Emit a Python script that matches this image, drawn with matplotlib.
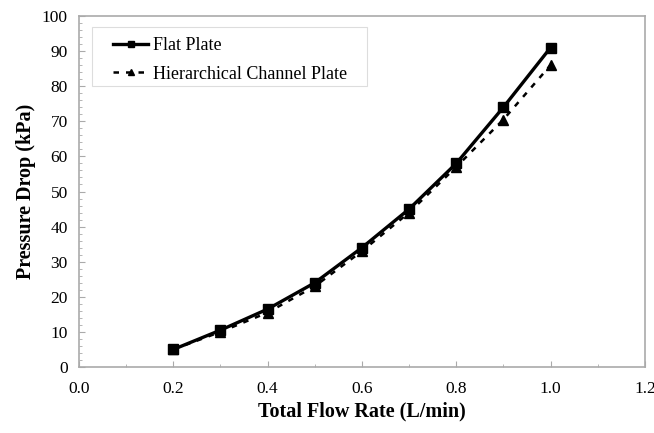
import matplotlib
matplotlib.use("Agg")
import matplotlib.pyplot as plt
from matplotlib.ticker import MultipleLocator
from matplotlib.patches import Rectangle

plt.rcParams['font.family'] = ['Liberation Serif', 'DejaVu Serif']

flow = [0.2, 0.3, 0.4, 0.5, 0.6, 0.7, 0.8, 0.9, 1.0]
flat_plate = [5.0, 10.5, 16.5, 24.0, 34.0, 45.0, 58.0, 74.0, 91.0]
hier_plate = [5.0, 10.0, 15.5, 23.0, 33.0, 44.0, 57.0, 70.5, 86.0]

fig = plt.figure(figsize=(6.54, 4.33), dpi=100)
ax = fig.add_axes([0.1208, 0.1524, 0.8652, 0.8106])

ax.plot(flow, flat_plate, '-', color='black', lw=2.4, marker='s', ms=7, label='Flat Plate', zorder=3)
ax.plot(flow, hier_plate, '--', color='black', lw=1.8, dashes=(2.2, 2.8), marker='^', ms=7, label='Hierarchical Channel Plate', zorder=4)

ax.set_xlim(0, 1.2)
ax.set_ylim(0, 100)
ax.xaxis.set_major_locator(MultipleLocator(0.2))
ax.xaxis.set_minor_locator(MultipleLocator(0.1))
ax.yaxis.set_major_locator(MultipleLocator(10))
ax.yaxis.set_minor_locator(MultipleLocator(2))
ax.set_xticklabels([f"{v:.1f}" for v in ax.get_xticks()])
ax.tick_params(axis='both', which='both', direction='in', colors='#aaaaaa', labelcolor='black', labelsize=12.5, pad=8)
ax.tick_params(axis='x', which='both', pad=10)
ax.tick_params(which='major', length=4)
ax.tick_params(which='minor', length=2.5)
for s in ax.spines.values():
    s.set_color('#aaaaaa')
    s.set_linewidth(1.2)

ax.set_xlabel('Total Flow Rate (L/min)', fontsize=14.5, fontweight='bold', labelpad=3)
ax.set_ylabel('Pressure Drop (kPa)', fontsize=14.5, fontweight='bold', labelpad=4)

# legend frame
ax.add_patch(Rectangle((0.023, 0.8006), 0.486, 0.1684, transform=ax.transAxes,
                       facecolor='white', edgecolor='#dddddd', lw=0.8, zorder=5))
leg = ax.legend(loc='upper left', bbox_to_anchor=(0.060, 0.940), fontsize=13, frameon=False,
                handlelength=1.95, handletextpad=0.25, borderpad=0, labelspacing=0.65,
                borderaxespad=0, markerscale=0.6)
leg.set_zorder(6)

fig.savefig('out.png', dpi=100)
